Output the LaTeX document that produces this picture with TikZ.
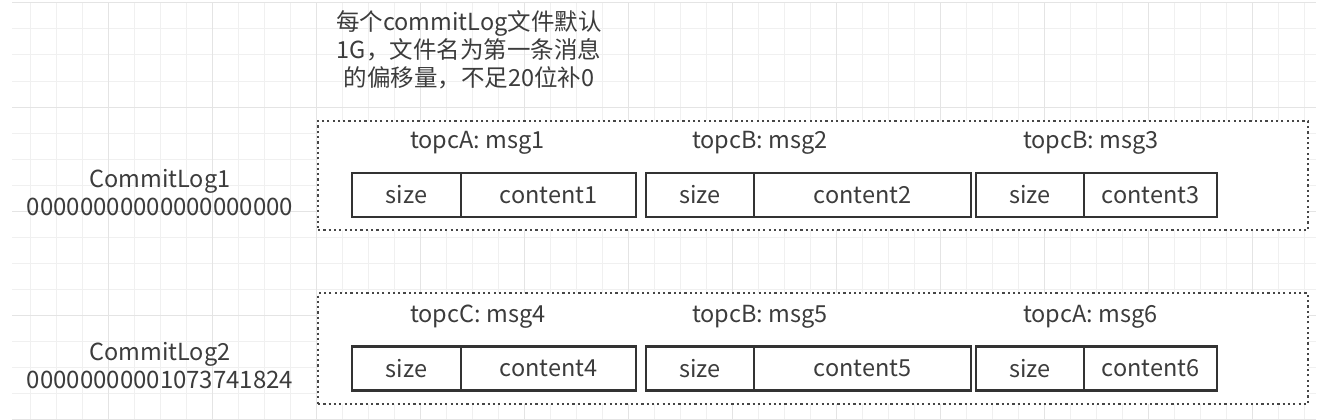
\documentclass[tikz,border=0pt]{standalone}
\usepackage{fontspec}
\setmainfont{Noto Sans CJK SC}
\definecolor{gridminor}{RGB}{240,240,240}
\definecolor{gridmajor}{RGB}{228,228,228}
\definecolor{dotcol}{RGB}{70,70,70}
\definecolor{cellcol}{RGB}{51,51,51}
\definecolor{txtcol}{RGB}{60,60,60}
\begin{document}
\begin{tikzpicture}[x=1pt,y=-1pt,
  every node/.style={font=\fontsize{23.5}{28}\selectfont, text=txtcol},
  dotbox/.style={draw=dotcol, fill=white, line width=2.4pt, dash pattern=on 2.2pt off 3.1pt, inner sep=0pt, minimum height=109pt, minimum width=990pt},
  cellbox/.style={draw=cellcol, fill=white, line width=2.6pt, inner sep=0pt, minimum height=44pt},
  lbl/.style={anchor=base west, inner sep=0pt},
  namebox/.style={align=center, inner sep=0pt}
]
\fill[white] (0,0) rectangle (1338,420);
\useasboundingbox (0,0) rectangle (1338,420);
% background grid
\foreach \k in {1,...,50} {
  \draw[gridminor, line width=1pt] ({4+26*\k},3) -- ({4+26*\k},420);
}
\foreach \k in {0,...,16} {
  \draw[gridminor, line width=1pt] (12,{3+26*\k}) -- (1316,{3+26*\k});
}
\foreach \k in {1,...,12} {
  \draw[gridmajor, line width=1pt] ({4+104*\k},3) -- ({4+104*\k},420);
}
\foreach \k in {0,...,4} {
  \draw[gridmajor, line width=1pt] (12,{3+104*\k}) -- (1316,{3+104*\k});
}
% note
\node[namebox] (note) at (469,50) {每个commitLog文件默认\\1G，文件名为第一条消息\\的偏移量，不足20位补0};
% file names
\node[namebox] (f1) at (160,193) {CommitLog1\\{\fontsize{24}{28}\selectfont 00000000000000000000}};
\node[namebox] (f2) at (160,366) {CommitLog2\\{\fontsize{24}{28}\selectfont 00000000001073741824}};
% dotted boxes
\node[dotbox] (b1) at (813,175.5) {};
\node[dotbox, minimum height=111pt] (b2) at (813,348.5) {};
% row 1
\node[lbl] (t1) at (410,148) {topcA: msg1};
\node[lbl] (t2) at (692,148) {topcB: msg2};
\node[lbl] (t3) at (1023,148) {topcB: msg3};
\node[cellbox, minimum width=109pt] (s1) at (406.5,195) {size};
\node[cellbox, minimum width=175pt] (c1) at (548.5,195) {content1};
\node[cellbox, minimum width=108pt] (s2) at (700,195) {size};
\node[cellbox, minimum width=217pt] (c2) at (862.5,195) {content2};
\node[cellbox, minimum width=108pt] (s3) at (1030,195) {size};
\node[cellbox, minimum width=133pt] (c3) at (1150.5,195) {content3};
% row 2
\node[lbl] (t4) at (410,322) {topcC: msg4};
\node[lbl] (t5) at (692,322) {topcB: msg5};
\node[lbl] (t6) at (1023,322) {topcA: msg6};
\node[cellbox, minimum width=109pt] (s4) at (406.5,368.5) {size};
\node[cellbox, minimum width=175pt] (c4) at (548.5,368.5) {content4};
\node[cellbox, minimum width=108pt] (s5) at (700,368.5) {size};
\node[cellbox, minimum width=217pt] (c5) at (862.5,368.5) {content5};
\node[cellbox, minimum width=108pt] (s6) at (1030,368.5) {size};
\node[cellbox, minimum width=133pt] (c6) at (1150.5,368.5) {content6};
\end{tikzpicture}
\end{document}
